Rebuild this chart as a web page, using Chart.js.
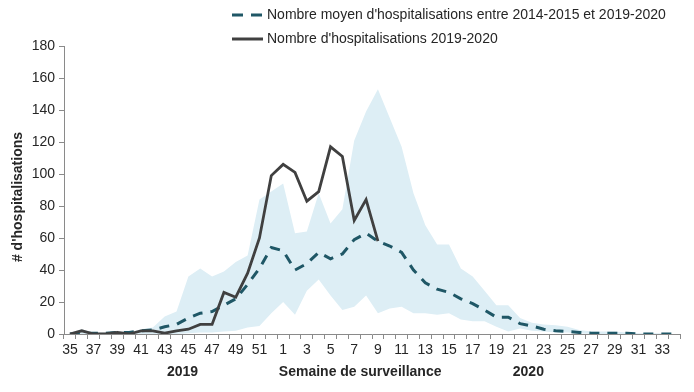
<!DOCTYPE html>
<html>
<head>
<meta charset="utf-8">
<script src="https://cdn.jsdelivr.net/npm/chart.js@4/dist/chart.umd.min.js"></script>
<style>
  body { margin: 0; background: #fff; }
  #wrap { position: relative; width: 694px; height: 392px; }
</style>
</head>
<body>
<div id="wrap"><canvas id="hospChart"></canvas></div>
<script>
// === Data ===
const weeks = ['35','36','37','38','39','40','41','42','43','44','45','46','47','48','49','50','51','52',
  '1','2','3','4','5','6','7','8','9','10','11','12','13','14','15','16','17','18','19','20',
  '21','22','23','24','25','26','27','28','29','30','31','32','33','34'];

// 2019-2020 season (stops at week 9)
const actual = [0,2,0,0,1,0,2,2,0.5,2,3,6,6,26,23,38,60,99,
  106,101,83,89,117,111,71,84,58];

// mean 2014-2015 to 2019-2020
const mean = [0,0.5,0.5,0.5,1,1,2,2.5,4.5,6,10,13,14,18,22,31,41,54,
  52,40,44,51,47,50,59,63,58,55,51,40,32,28,26,22,19,15,10.5,10.5,
  6.5,5,3,2,1.5,1,0.5,0.5,0.5,0.5,0,0,0,0];

// min / max band
const upper = [1,3,1,1,2,1,3,4,11,14,36,41,36,39,45,49,84,89,
  94,63,64,88,69,78,121,139,153,135,117,88,68,56,56,41,36,27,18,18,
  10,7,6,5.5,4.5,2.5,1.5,1.5,1.5,1,0.5,0.5,0.5,0];
const lower = [0,0,0,0,0,0,0,0,0,0,0.5,1,1,1.5,2,4,5,13,
  20,12,27,34,24,15,17,24,13,16,17,13,13,12,13,9,8,8,4.5,1.5,
  3.5,2,1.5,1,1,0.5,0,0,0,0,0,0,0,0];

const meanLabel = "Nombre moyen d'hospitalisations entre 2014-2015 et 2019-2020";
const actualLabel = "Nombre d'hospitalisations 2019-2020";

// === Styles ===
const FONT = '"Liberation Sans", Arial, sans-serif';
const meanColor = '#1f5766';
const actualColor = '#404040';
const bandColor = '#ddeef5';
const axisColor = '#8a8a8a';
const textColor = '#262626';

// legend + axis titles drawn by hand
const extraText = {
  id: 'extraText',
  afterDraw(chart) {
    const ctx = chart.ctx;
    const xs = chart.scales.x;
    ctx.save();

    // legend
    const items = [
      { text: meanLabel, color: meanColor, dash: [11, 8], y: 15 },
      { text: actualLabel, color: actualColor, dash: [], y: 39 }
    ];
    items.forEach(it => {
      ctx.strokeStyle = it.color;
      ctx.lineWidth = 3;
      ctx.setLineDash(it.dash);
      ctx.beginPath();
      ctx.moveTo(232, it.y);
      ctx.lineTo(263, it.y);
      ctx.stroke();
      ctx.setLineDash([]);
      ctx.fillStyle = textColor;
      ctx.font = '14px ' + FONT;
      ctx.textAlign = 'left';
      ctx.textBaseline = 'middle';
      ctx.fillText(it.text, 267, it.y);
    });

    // x titles
    ctx.font = 'bold 14px ' + FONT;
    ctx.textAlign = 'center';
    ctx.textBaseline = 'middle';
    ctx.fillStyle = textColor;
    ctx.fillText('2019', xs.getPixelForValue(9.5), 372);
    ctx.fillText('Semaine de surveillance', xs.getPixelForValue(24.5), 372);
    ctx.fillText('2020', xs.getPixelForValue(38.7), 372);

    // y title
    ctx.translate(18, 197);
    ctx.rotate(-Math.PI / 2);
    ctx.fillText("# d'hospitalisations", 0, 0);
    ctx.restore();
  }
};

new Chart(document.getElementById('hospChart'), {
  type: 'line',
  data: {
    labels: weeks,
    datasets: [
      {
        label: actualLabel,
        data: actual,
        borderColor: actualColor,
        borderWidth: 2.8,
        pointRadius: 0,
        fill: false,
        order: 0
      },
      {
        label: meanLabel,
        data: mean,
        borderColor: meanColor,
        borderWidth: 3,
        borderDash: [10, 8],
        pointRadius: 0,
        fill: false,
        order: 1
      },
      {
        label: 'max',
        data: upper,
        borderWidth: 0,
        borderColor: 'rgba(0,0,0,0)',
        backgroundColor: bandColor,
        pointRadius: 0,
        fill: '+1',
        order: 2
      },
      {
        label: 'min',
        data: lower,
        borderWidth: 0,
        borderColor: 'rgba(0,0,0,0)',
        pointRadius: 0,
        fill: false,
        order: 3
      }
    ]
  },
  options: {
    responsive: true,
    maintainAspectRatio: false,
    animation: false,
    layout: { padding: { top: 46, right: 14, left: 0, bottom: 0 } },
    plugins: {
      legend: { display: false },
      tooltip: { enabled: false }
    },
    scales: {
      x: {
        offset: true,
        grid: {
          offset: true,
          drawOnChartArea: false,
          drawTicks: true,
          tickLength: 5,
          color: axisColor
        },
        border: { display: true, color: axisColor, width: 1 },
        ticks: {
          autoSkip: false,
          maxRotation: 0,
          padding: 3,
          color: textColor,
          font: { family: FONT, size: 14 },
          callback: function (val, i) {
            return i % 2 === 0 ? this.getLabelForValue(val) : '';
          }
        },
        afterFit: s => { s.height = 58; }
      },
      y: {
        min: 0,
        max: 180,
        grid: {
          drawOnChartArea: false,
          drawTicks: true,
          tickLength: 5,
          color: axisColor
        },
        border: { display: true, color: axisColor, width: 1 },
        ticks: {
          stepSize: 20,
          padding: 4,
          color: textColor,
          font: { family: FONT, size: 14 }
        },
        afterFit: s => { s.width = 64; }
      }
    }
  },
  plugins: [extraText]
});
</script>
</body>
</html>
